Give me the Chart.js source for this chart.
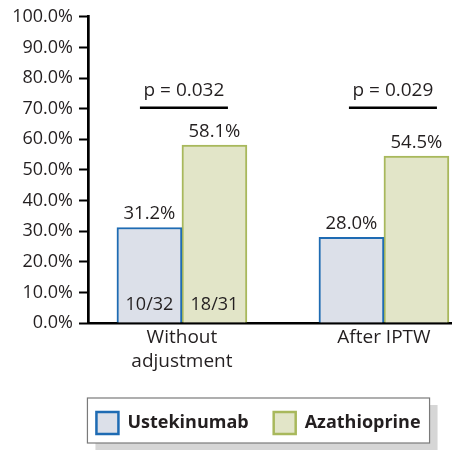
<!DOCTYPE html>
<html>
<head>
<meta charset="utf-8">
<script src="https://cdn.jsdelivr.net/npm/chart.js@4/dist/chart.umd.min.js"></script>
<style>
html,body{margin:0;padding:0;background:#fff;}
#wrap{width:457px;height:450px;position:relative;}
</style>
</head>
<body>
<div id="wrap"><canvas id="c" width="457" height="450"></canvas></div>
<script>
const categories = [['Without', 'adjustment'], 'After IPTW'];
const seriesNames = ['Ustekinumab', 'Azathioprine'];
const ustekinumab = [31.2, 28.0];
const azathioprine = [58.1, 54.5];
const ustCounts = ['10/32', ''];
const azaCounts = ['18/31', ''];
const pValues = ['p = 0.032', 'p = 0.029'];
const pLineLevel = [70.3, 70.3];
const yTicks = [0, 10, 20, 30, 40, 50, 60, 70, 80, 90, 100];

const FONT = '"Open Sans", sans-serif';
const TEXT = '#231f20';
const LEG_PAD = 25;

const annot = {
  id: 'annot',
  afterDatasetsDraw(chart) {
    const ctx = chart.ctx;
    const x = chart.scales.x, y = chart.scales.y;
    ctx.save();
    ctx.fillStyle = TEXT;
    ctx.textAlign = 'center';
    ctx.textBaseline = 'alphabetic';
    chart.data.datasets.forEach((ds, di) => {
      const meta = chart.getDatasetMeta(di);
      meta.data.forEach((bar, i) => {
        ctx.font = '18.5px ' + FONT;
        ctx.fillText(ds.data[i].y.toFixed(1) + '%', bar.x, bar.y - 8);
        const cnt = ds.counts[i];
        ctx.font = '18px ' + FONT;
        if (cnt) ctx.fillText(cnt, bar.x, y.getPixelForValue(0) - 13);
      });
    });
    // p-value brackets
    ctx.font = '19px ' + FONT;
    pValues.forEach((p, i) => {
      const cx = x.getPixelForValue(i) + (i === 0 ? 2 : 9);
      const ly = y.getPixelForValue(pLineLevel[i]);
      ctx.strokeStyle = '#000';
      ctx.lineWidth = 2.5;
      ctx.beginPath();
      ctx.moveTo(cx - 44, ly);
      ctx.lineTo(cx + 44, ly);
      ctx.stroke();
      ctx.fillText(p, cx, ly - 12);
    });
    ctx.restore();
  }
};

const legendShift = {
  id: 'legendShift',
  afterLayout(chart) {
    const lg = chart.legend;
    if (lg) { lg.left += 33; lg.right += 33; lg.top -= (LEG_PAD - 14); }
  }
};

const legendBox = {
  id: 'legendBox',
  beforeDraw(chart) {
    const lg = chart.legend;
    if (!lg || !lg.lineWidths) return;
    const lw = lg.lineWidths[0];
    const cx = (lg.left + LEG_PAD + lg.right - lw) / 2;
    const l = cx - 9;
    const r = cx + lw - LEG_PAD + 9;
    const t = chart.scales.x.bottom;
    const b = t + 45;
    const ctx = chart.ctx;
    ctx.save();
    ctx.fillStyle = '#d6d6d6';
    ctx.fillRect(l + 8, t + 7, r - l, b - t);
    ctx.fillStyle = '#fff';
    ctx.fillRect(l, t, r - l, b - t);
    ctx.strokeStyle = '#7a7a7a';
    ctx.lineWidth = 1.2;
    ctx.strokeRect(l, t, r - l, b - t);
    ctx.restore();
  }
};

new Chart(document.getElementById('c'), {
  type: 'bar',
  data: {
    datasets: [
      {
        label: seriesNames[0],
        data: ustekinumab.map((v, i) => ({x: i, y: v})),
        counts: ustCounts,
        backgroundColor: '#dce0e9',
        borderColor: '#1e6bb3',
        borderWidth: 2,
        barThickness: 65
      },
      {
        label: seriesNames[1],
        data: azathioprine.map((v, i) => ({x: i, y: v})),
        counts: azaCounts,
        backgroundColor: '#e2e5c8',
        borderColor: '#a8b85c',
        borderWidth: 2,
        barThickness: 65
      }
    ]
  },
  options: {
    responsive: false,
    animation: false,
    layout: {padding: {left: 0, right: 6, top: 4, bottom: 6}},
    plugins: {
      tooltip: {enabled: false},
      legend: {
        position: 'bottom',
        maxHeight: 46,
        labels: {
          boxWidth: 22,
          boxHeight: 22,
          padding: LEG_PAD,
          color: TEXT,
          font: {family: FONT, size: 18, weight: 'bold'},
          generateLabels(chart) {
            return chart.data.datasets.map((ds, i) => ({
              text: ds.label,
              fillStyle: ds.backgroundColor,
              strokeStyle: ds.borderColor,
              lineWidth: 2.5,
              datasetIndex: i,
              fontColor: TEXT
            }));
          }
        }
      }
    },
    scales: {
      x: {
        type: 'linear',
        offset: false,
        min: -0.465,
        max: 1.332,
        afterBuildTicks(scale) { scale.ticks = categories.map((c, i) => ({value: i})); },
        afterFit(scale) { scale.height = 75; },
        grid: {display: false, drawTicks: false, offset: false},
        border: {color: '#000', width: 2.5},
        ticks: {
          color: TEXT,
          padding: 2,
          maxRotation: 0,
          autoSkip: false,
          font: {family: FONT, size: 19, lineHeight: 1.3},
          callback: (v) => categories[v]
        }
      },
      y: {
        min: 0,
        max: 100,
        afterBuildTicks(scale) { scale.ticks = yTicks.map(v => ({value: v})); },
        afterFit(scale) { scale.width = 88; },
        grid: {drawOnChartArea: false, drawTicks: true, tickLength: 9, tickColor: '#000', tickWidth: 2},
        border: {color: '#000', width: 2.7},
        ticks: {
          color: TEXT,
          padding: 6,
          font: {family: FONT, size: 18},
          callback: (v) => v.toFixed(1) + '%'
        }
      }
    }
  },
  plugins: [legendShift, legendBox, annot]
});
</script>
</body>
</html>
